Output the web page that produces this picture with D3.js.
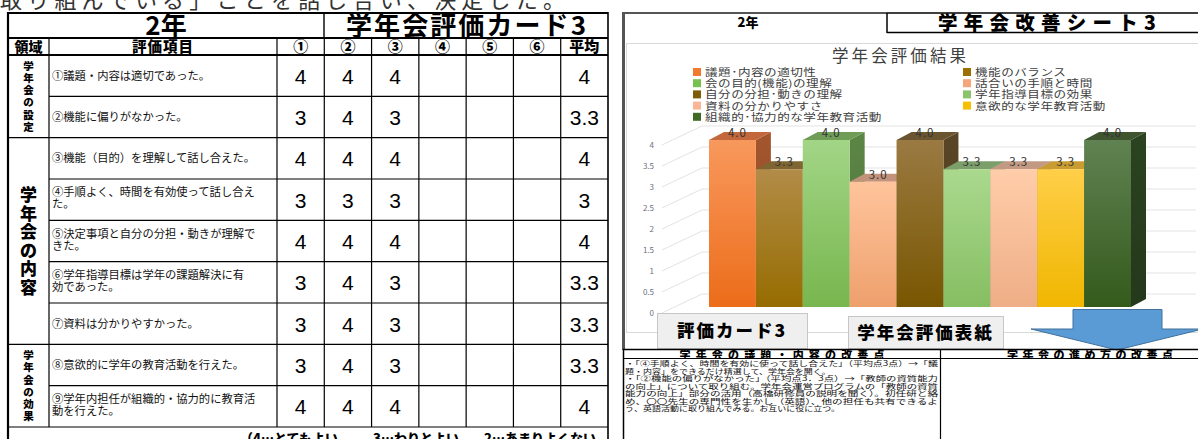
<!DOCTYPE html>
<html lang="ja">
<head>
<meta charset="utf-8">
<title>学年会評価カード3・学年会改善シート3</title>
<script src="https://cdn.jsdelivr.net/npm/d3@7"></script>
<style>
  body { margin: 0; background: #fff; }
  svg { display: block; }
  text { font-family: "Noto Sans CJK JP", "Noto Sans", sans-serif; }
  .num { font-family: "Liberation Sans", Arial, sans-serif; }
</style>
</head>
<body>
<svg id="page" width="1198" height="439"></svg>
<script>
// ---- data ----
const gradeName = "2年";
const cardTitle = "学年会評価カード3";
const sheetTitle = "学年会改善シート3";
const chartTitle = "学年会評価結果";
const leadText = "取り組んでいる」ことを話し合い、決定した。";

const domainNames = ["学年会の設定", "学年会の内容", "学年会の効果"];
const domainRowCounts = [2, 5, 2];

const itemLines = [
  ["①議題・内容は適切であった。"],
  ["②機能に偏りがなかった。"],
  ["③機能（目的）を理解して話し合えた。"],
  ["④手順よく、時間を有効使って話し合え", "た。"],
  ["⑤決定事項と自分の分担・動きが理解で", "きた。"],
  ["⑥学年指導目標は学年の課題解決に有", "効であった。"],
  ["⑦資料は分かりやすかった。"],
  ["⑧意欲的に学年の教育活動を行えた。"],
  ["⑨学年内担任が組織的・協力的に教育活", "動を行えた。"]
];

const raterColumns = ["①", "②", "③", "④", "⑤", "⑥"];
const averageColumn = "平均";
const scoresRater1 = [4, 3, 4, 3, 4, 3, 3, 3, 4];
const scoresRater2 = [4, 4, 4, 3, 4, 4, 4, 4, 4];
const scoresRater3 = [4, 3, 4, 3, 4, 3, 3, 3, 4];
const averages = [4, 3.3, 4, 3, 4, 3.3, 3.3, 3.3, 4];

const scaleNote = ["（4…とてもよい", "3…わりとよい", "2…あまりよくない"];

const seriesNames = [
  "議題･内容の適切性", "機能のバランス", "会の目的(機能)の理解",
  "話合いの手順と時間", "自分の分担･動きの理解", "学年指導目標の効果",
  "資料の分かりやすさ", "意欲的な学年教育活動", "組織的･協力的な学年教育活動"
];
const yTickValues = [0, 0.5, 1, 1.5, 2, 2.5, 3, 3.5, 4];

const buttonLabels = ["評価カード3", "学年会評価表紙"];
const planHeaders = ["学年会の議題・内容の改善点", "学年会の進め方の改善点"];
const planLines = [
  "・「④手順よく、時間を有効に使って話し合えた」（平均点3点）→「議",
  "題・内容」をできるだけ精選して、学年会を開く。",
  "・「②機能の偏りがなかった」（平均点3．3点）→「教師の資質能力",
  "の向上」について取り組む。学年会運営プログラムの「教師の資質",
  "能力の向上」部分の活用（高橋研修員の説明を聞く）。初任研と絡",
  "め、〇〇先生の専門性を生かし（英語）、他の担任も共有できるよ",
  "う、英語活動に取り組んでみる。お互いに役に立つ。"
];
const planFullLine = [true, false, true, true, true, true, false];

// ---- styles ----
// bar colours: [gradient top, gradient bottom, top face, side face, legend swatch]
const barPalette = [
  ["#f8985c", "#ec6d1a", "#c2683c", "#a4562e", "#f27a2e"],
  ["#b28c48", "#966c00", "#7e6532", "#6a5222", "#9c7000"],
  ["#a2d586", "#78b64e", "#6f9d58", "#5c8646", "#78c050"],
  ["#ffc49c", "#eea06c", "#c2937a", "#a67a60", "#f4a67a"],
  ["#9a7a42", "#785600", "#6a5530", "#5a4626", "#7f5c08"],
  ["#aad98e", "#86be62", "#7c9e6a", "#66884e", "#8cc46c"],
  ["#ffcdaa", "#eeae86", "#c29a84", "#a88068", "#f8b696"],
  ["#ffcf48", "#f0b600", "#c89c30", "#a88020", "#f6c000"],
  ["#608252", "#345a1c", "#3f5530", "#2b4320", "#3f6a26"]
];

const svg = d3.select("#page");
const defs = svg.append("defs");

svg.append("rect").attr("width", 1198).attr("height", 439).attr("fill", "#fff");

// ---- lead sentence (partly cut by the top edge) ----
svg.append("text")
  .attr("x", 0).attr("y", 8)
  .attr("font-size", 22).attr("fill", "#333")
  .attr("textLength", 565).attr("lengthAdjust", "spacing")
  .text(leadText);

// =================== evaluation card (left) ===================
const card = svg.append("g");
const scoreCols = raterColumns.concat([averageColumn]);
const colX = d3.scaleBand().domain(scoreCols).range([277, 608]);
const rowY = d3.scaleBand().domain(d3.range(itemLines.length)).range([55, 427]);

const line = (g, x1, y1, x2, y2, w) => g.append("line")
  .attr("x1", x1).attr("y1", y1).attr("x2", x2).attr("y2", y2)
  .attr("stroke", "#000").attr("stroke-width", w || 1);

// title row
card.append("text").attr("x", 166).attr("y", 35).attr("text-anchor", "middle")
  .attr("font-size", 26).attr("font-weight", 700).text(gradeName);
card.append("text").attr("x", 466).attr("y", 35).attr("text-anchor", "middle")
  .attr("font-size", 26).attr("font-weight", 700)
  .attr("textLength", 240).attr("lengthAdjust", "spacing").text(cardTitle);

// header row
card.append("text").attr("x", 28.5).attr("y", 52).attr("text-anchor", "middle")
  .attr("font-size", 14).attr("font-weight", 900).text("領域");
card.append("text").attr("x", 163).attr("y", 52).attr("text-anchor", "middle")
  .attr("font-size", 14.5).attr("font-weight", 900).attr("letter-spacing", 1).text("評価項目");
card.selectAll("text.colhead").data(scoreCols).join("text")
  .attr("class", "colhead")
  .attr("x", d => colX(d) + colX.bandwidth() / 2).attr("y", 52)
  .attr("text-anchor", "middle").attr("font-size", 15).attr("font-weight", 900)
  .text(d => d);

// domain labels (vertical)
let rowStart = 0;
domainNames.forEach((name, i) => {
  const n = domainRowCounts[i];
  const top = rowY(rowStart), bottom = rowY(rowStart + n - 1) + rowY.bandwidth();
  const big = n > 2;
  const step = big ? 18.5 : 12.3;
  const fs = big ? 17 : 10.5;
  const chars = Array.from(name);
  const mid = (top + bottom) / 2;
  chars.forEach((c, k) => {
    card.append("text")
      .attr("x", 28.5)
      .attr("y", mid + (k - (chars.length - 1) / 2) * step + fs * 0.38)
      .attr("text-anchor", "middle").attr("font-size", fs).attr("font-weight", 900)
      .text(c);
  });
  rowStart += n;
});

// item rows
itemLines.forEach((lines, i) => {
  const cy = rowY(i) + rowY.bandwidth() / 2;
  lines.forEach((t, k) => {
    const y = lines.length === 1 ? cy + 4 : cy - 3.5 + k * 12;
    card.append("text").attr("x", 52).attr("y", y)
      .attr("font-size", 11.3).attr("fill", "#111").text(t);
  });
  const rowVals = [scoresRater1[i], scoresRater2[i], scoresRater3[i]];
  rowVals.forEach((v, k) => {
    card.append("text").attr("class", "num")
      .attr("x", colX(raterColumns[k]) + colX.bandwidth() / 2).attr("y", cy + 8)
      .attr("text-anchor", "middle").attr("font-size", 21).text(v);
  });
  card.append("text").attr("class", "num")
    .attr("x", colX(averageColumn) + colX.bandwidth() / 2).attr("y", cy + 8)
    .attr("text-anchor", "middle").attr("font-size", 21).text(averages[i]);
});

// grid lines
line(card, 8, 13, 608, 13, 2);
line(card, 8, 12, 8, 439, 2.2);
line(card, 608, 12, 608, 439, 1.6);
line(card, 8, 38, 608, 38, 2);
line(card, 324, 13, 324, 38, 1.4);
line(card, 8, 55, 608, 55, 2);
[49, 277].concat(scoreCols.slice(1).map(d => colX(d))).forEach(x => line(card, x, 38, x, 427, 1.2));
const domainEnds = d3.cumsum(domainRowCounts);
d3.range(1, itemLines.length + 1).forEach(r => {
  const y = r < itemLines.length ? rowY(r) : 427;
  const full = domainEnds.includes(r);
  line(card, full ? 8 : 49, y, 608, y, 1.2);
});

// rating key (partly cut by the bottom edge)
[[240, scaleNote[0]], [373, scaleNote[1]], [484, scaleNote[2]]].forEach(([x, t]) => {
  card.append("text").attr("x", x).attr("y", 443)
    .attr("font-size", 13).attr("font-weight", 900).text(t);
});

// =================== improvement sheet (right) ===================
const sheet = svg.append("g");

// frame and heading
sheet.append("line").attr("x1", 622).attr("y1", 13).attr("x2", 887).attr("y2", 13)
  .attr("stroke", "#555").attr("stroke-width", 2);
sheet.append("line").attr("x1", 623.5).attr("y1", 12).attr("x2", 623.5).attr("y2", 350)
  .attr("stroke", "#555").attr("stroke-width", 3);
line(sheet, 887, 13, 1198, 13, 1.5);
line(sheet, 887, 13, 887, 33, 1.5);
line(sheet, 887, 32.5, 1198, 32.5, 1.5);
sheet.append("text").attr("x", 748).attr("y", 27).attr("text-anchor", "middle")
  .attr("font-size", 13).attr("font-weight", 900).text(gradeName);
sheet.append("text").attr("x", 1047).attr("y", 30).attr("text-anchor", "middle")
  .attr("font-size", 19.5).attr("font-weight", 900)
  .attr("textLength", 218).attr("lengthAdjust", "spacing").text(sheetTitle);

// chart area
sheet.append("rect").attr("x", 626.5).attr("y", 43.5).attr("width", 580).attr("height", 289)
  .attr("fill", "#fff").attr("stroke", "#d9d9d9");

sheet.append("text").attr("x", 899).attr("y", 62).attr("text-anchor", "middle")
  .attr("font-size", 16.5).attr("fill", "#404040")
  .attr("textLength", 134).attr("lengthAdjust", "spacing").text(chartTitle);

// legend: two columns, filled row by row; glyphs drawn wide and low
const legend = sheet.append("g");
seriesNames.forEach((name, i) => {
  const col = i % 2, row = Math.floor(i / 2);
  const lx = col === 0 ? 693 : 963;
  const ly = 72 + row * 11.2;
  legend.append("rect").attr("x", lx).attr("y", ly - 4).attr("width", 8).attr("height", 8)
    .attr("fill", barPalette[i][4]);
  legend.append("text")
    .attr("transform", `translate(${lx + 12},${ly + 4}) scale(1,0.78)`)
    .attr("font-size", 12.6).attr("fill", "#404040").attr("letter-spacing", 0.5).text(name);
});

// value axis (front edge) and back-wall grid
const yAxisScale = d3.scaleLinear().domain([0, 4]).range([313, 145]);
const wallShift = { dx: 40, dy: -19 };
const grid = sheet.append("g").attr("stroke", "#e3e3e3").attr("stroke-width", 1).attr("fill", "none");
yTickValues.forEach(v => {
  const y = yAxisScale(v);
  grid.append("line").attr("x1", 662).attr("y1", y).attr("x2", 662 + wallShift.dx).attr("y2", y + wallShift.dy);
  grid.append("line").attr("x1", 662 + wallShift.dx).attr("y1", y + wallShift.dy)
    .attr("x2", 1196).attr("y2", y + wallShift.dy);
});
const axisG = sheet.append("g").attr("transform", "translate(654,0)")
  .call(d3.axisLeft(yAxisScale).tickValues(yTickValues).tickSize(0).tickPadding(0)
    .tickFormat(d => String(d)));
axisG.select(".domain").remove();
axisG.selectAll("text").attr("font-size", 8).attr("fill", "#6c7080")
  .attr("font-family", "\"Liberation Sans\", Arial, sans-serif");

// 3-D columns
const bx = d3.scaleBand().domain(seriesNames).range([709, 1131]).padding(0);
const by = d3.scaleLinear().domain([0, 4]).range([307, 140]);
const barDepth = { dx: 15, dy: -8 };

barPalette.forEach((p, i) => {
  const g = defs.append("linearGradient").attr("id", "front" + i)
    .attr("x1", 0).attr("y1", 0).attr("x2", 0).attr("y2", 1);
  g.append("stop").attr("offset", "0%").attr("stop-color", p[0]);
  g.append("stop").attr("offset", "100%").attr("stop-color", p[1]);
  const s = defs.append("linearGradient").attr("id", "side" + i)
    .attr("x1", 0).attr("y1", 0).attr("x2", 0).attr("y2", 1);
  s.append("stop").attr("offset", "0%").attr("stop-color", p[3]);
  s.append("stop").attr("offset", "100%").attr("stop-color", d3.color(p[3]).darker(0.5));
});

const bars = sheet.append("g");
seriesNames.forEach((name, i) => {
  const v = averages[i];
  const x0 = bx(name), x1 = x0 + bx.bandwidth();
  const yt = by(v), yb = by(0);
  const { dx, dy } = barDepth;
  const g = bars.append("g");
  g.append("polygon")
    .attr("points", [[x1, yt], [x1 + dx, yt + dy], [x1 + dx, yb + dy], [x1, yb]].map(p => p.join(",")).join(" "))
    .attr("fill", `url(#side${i})`);
  g.append("polygon")
    .attr("points", [[x0, yt], [x1, yt], [x1 + dx, yt + dy], [x0 + dx, yt + dy]].map(p => p.join(",")).join(" "))
    .attr("fill", barPalette[i][2]);
  g.append("rect").attr("x", x0).attr("y", yt).attr("width", x1 - x0).attr("height", yb - yt)
    .attr("fill", `url(#front${i})`);
});

const fmt = d3.format(".1f");
sheet.append("g").selectAll("text").data(seriesNames).join("text")
  .attr("x", d => bx(d) + bx.bandwidth() / 2 + 5)
  .attr("y", (d, i) => by(averages[i]) - 3)
  .attr("text-anchor", "middle").attr("font-size", 11.5).attr("fill", "#333")
  .attr("letter-spacing", 1)
  .attr("font-family", "\"DejaVu Sans\", sans-serif")
  .text((d, i) => fmt(averages[i]));

// navigation buttons
const btnBoxes = [[657, 313, 150, 35], [848, 316, 155, 32]];
buttonLabels.forEach((t, i) => {
  const [x, y, w, h] = btnBoxes[i];
  sheet.append("rect").attr("x", x + 0.5).attr("y", y + 0.5).attr("width", w).attr("height", h)
    .attr("fill", "#efefef").attr("stroke", "#c6c6c6");
  sheet.append("text").attr("x", x + w / 2).attr("y", y + h / 2 + 6.5).attr("text-anchor", "middle")
    .attr("font-size", 17.5).attr("font-weight", 900).attr("letter-spacing", 2).text(t);
});

// downward arrow
sheet.append("polygon")
  .attr("points", "1073,309.5 1162,309.5 1162,329 1203,329 1117,350 1031,329 1073,329")
  .attr("fill", "#5b9bd5").attr("stroke", "#41719c").attr("stroke-width", 1);

// improvement plan table
const plan = sheet.append("g");
line(plan, 623, 349.5, 1198, 349.5, 1.5);
line(plan, 623, 358.5, 1198, 358.5, 1.2);
line(plan, 623.5, 349, 623.5, 439, 1.5);
line(plan, 940.5, 349, 940.5, 439, 1.2);
defs.append("clipPath").attr("id", "headClip")
  .append("rect").attr("x", 623).attr("y", 350).attr("width", 575).attr("height", 8);
const heads = plan.append("g").attr("clip-path", "url(#headClip)");
heads.append("text").attr("x", 782).attr("y", 359).attr("text-anchor", "middle")
  .attr("font-size", 11).attr("font-weight", 900)
  .attr("textLength", 205).attr("lengthAdjust", "spacing").text(planHeaders[0]);
heads.append("text").attr("x", 1090).attr("y", 359).attr("text-anchor", "middle")
  .attr("font-size", 11).attr("font-weight", 900)
  .attr("textLength", 166).attr("lengthAdjust", "spacing").text(planHeaders[1]);

const body = plan.append("g").attr("transform", "translate(625,359) scale(1,0.82)");
planLines.forEach((t, i) => {
  const tx = body.append("text").attr("x", 0).attr("y", 8.5 + i * 9.2)
    .attr("font-size", 9).attr("fill", "#111").text(t);
  if (planFullLine[i]) tx.attr("textLength", 313).attr("lengthAdjust", "spacingAndGlyphs");
});
</script>
</body>
</html>
